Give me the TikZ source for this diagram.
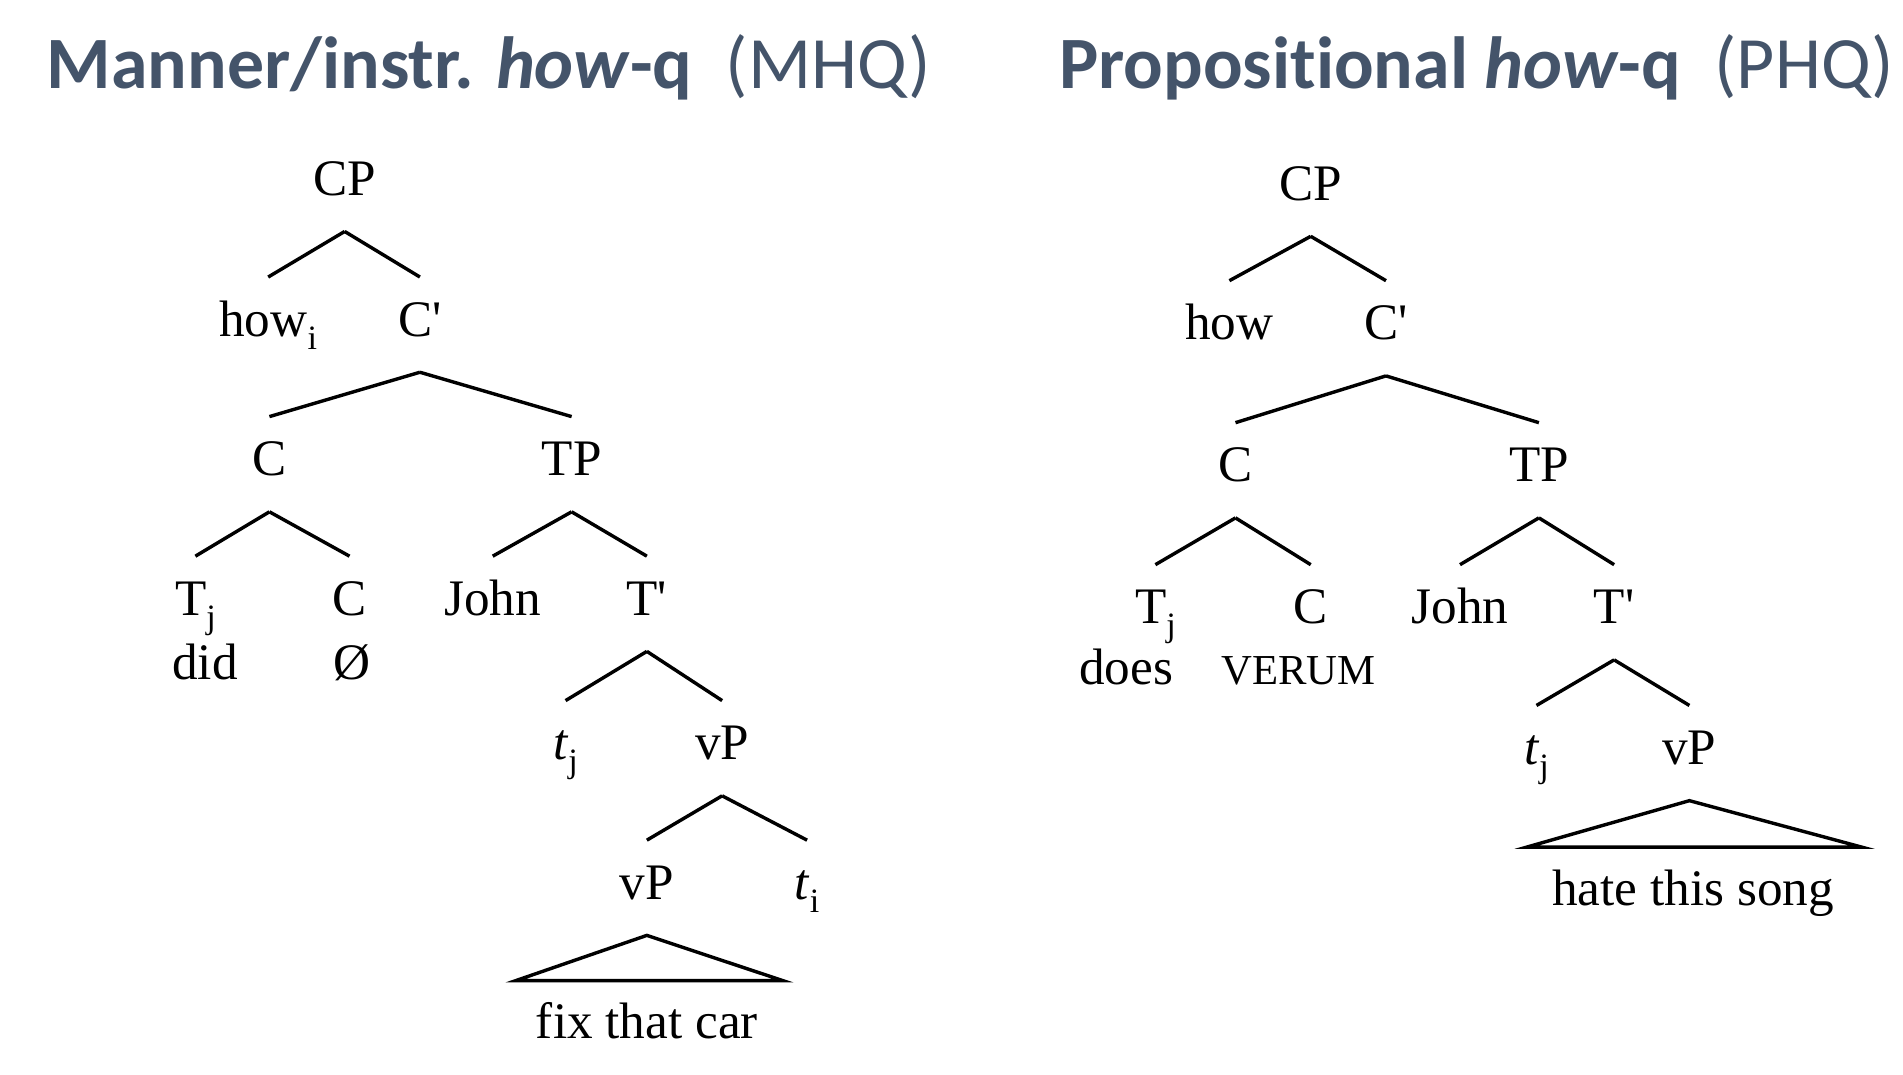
\documentclass[tikz,border=0pt]{standalone}
\usepackage{fontspec}
\setmainfont{Liberation Serif}
\newfontfamily\titlefont[Ligatures=NoCommon]{Carlito}
\usetikzlibrary{positioning}
\definecolor{slate}{HTML}{44546A}
\newcommand\sbs[1]{\raisebox{-0.55ex}{\fontsize{8}{9}\selectfont #1}}
\tikzset{
  ttl/.style={anchor=base west, inner sep=0pt, text=slate, font=\titlefont\fontsize{17.3}{20}\selectfont},
  lab/.style={anchor=base, inner sep=0pt, text height=0.48cm, text depth=0.29cm, font=\fontsize{12}{14}\selectfont},
  leaf/.style={anchor=base, inner sep=0pt, font=\fontsize{12}{14}\selectfont},
  br/.style={line width=0.8pt},
  tri/.style={line width=0.8pt, line join=miter}
}

\begin{document}
\begin{tikzpicture}[x=0.01cm, y=-0.01cm]
    \useasboundingbox (0,0) rectangle (1568,885);

    % === Titles ===
    \node[ttl] (tmhq) at (38,73) {{\bfseries Manner/instr. \textit{how}-q}\ \ (MHQ)};
    \node[ttl] (tphq) at (872,73) {{\bfseries Propositional \textit{how}-q}\ \ (PHQ)};

    % === Left tree: MHQ ===
    \node[lab] (mcp)   at (284,161) {CP};
    \node[lab] (mhow)  at (221,277) {how\sbs{i}};
    \node[lab] (mcb)   at (346,277) {C\textquotesingle};
    \node[lab] (mc)    at (222,392) {C};
    \node[lab] (mtp)   at (471,392) {TP};
    \node[lab] (mtj)   at (161,507) {T\sbs{j}};
    \node[lab] (mcc)   at (288,507) {C};
    \node[lab] (mjohn) at (406,507) {John};
    \node[lab] (mtb)   at (533,507) {T\textquotesingle};
    \node[leaf] (mdid) at (169,560) {did};
    \node[leaf] (mnul) at (290,560) {Ø};
    \node[lab] (mtrj)  at (466,626) {\textit{t}\sbs{j}};
    \node[lab] (mvp)   at (595,626) {vP};
    \node[lab] (mvpb)  at (533,741) {vP};
    \node[lab] (mtri)  at (665,741) {\textit{t}\sbs{i}};

    \foreach \p/\c in {mcp/mhow, mcp/mcb, mcb/mc, mcb/mtp, mc/mtj, mc/mcc,
                       mtp/mjohn, mtp/mtb, mtb/mtrj, mtb/mvp, mvp/mvpb, mvp/mtri} {
        \draw[br] (\p.south) -- (\c.north);
    }

    % Triangle over the vP
    \coordinate (mtl) at (425,808);
    \coordinate (mtr) at (645,808);
    \draw[tri] (mvpb.south) -- (mtl) -- (mtr) -- cycle;
    \node[leaf] (mfix) at (533,856) {fix that car};

    % === Right tree: PHQ ===
    \node[lab] (pcp)   at (1080,165) {CP};
    \node[lab] (phow)  at (1013,280) {how};
    \node[lab] (pcb)   at (1142,280) {C\textquotesingle};
    \node[lab] (pc)    at (1018,397) {C};
    \node[lab] (ptp)   at (1268,397) {TP};
    \node[lab] (ptj)   at (952,514) {T\sbs{j}};
    \node[lab] (pcc)   at (1080,514) {C};
    \node[lab] (pjohn) at (1203,514) {John};
    \node[lab] (ptb)   at (1330,514) {T\textquotesingle};
    \node[leaf] (pdoes) at (928,564) {does};
    \node[leaf, font=\fontsize{10}{12}\selectfont] (pver) at (1070,564) {VERUM};
    \node[lab] (ptrj)  at (1266,630) {\textit{t}\sbs{j}};
    \node[lab] (pvp)   at (1392,630) {vP};

    \foreach \p/\c in {pcp/phow, pcp/pcb, pcb/pc, pcb/ptp, pc/ptj, pc/pcc,
                       ptp/pjohn, ptp/ptb, ptb/ptrj, ptb/pvp} {
        \draw[br] (\p.south) -- (\c.north);
    }

    % Triangle over the vP
    \coordinate (ptl) at (1258,698);
    \coordinate (ptr) at (1534,698);
    \draw[tri] (pvp.south) -- (ptl) -- (ptr) -- cycle;
    \node[leaf] (phate) at (1395,746) {hate this song};

\end{tikzpicture}
\end{document}
